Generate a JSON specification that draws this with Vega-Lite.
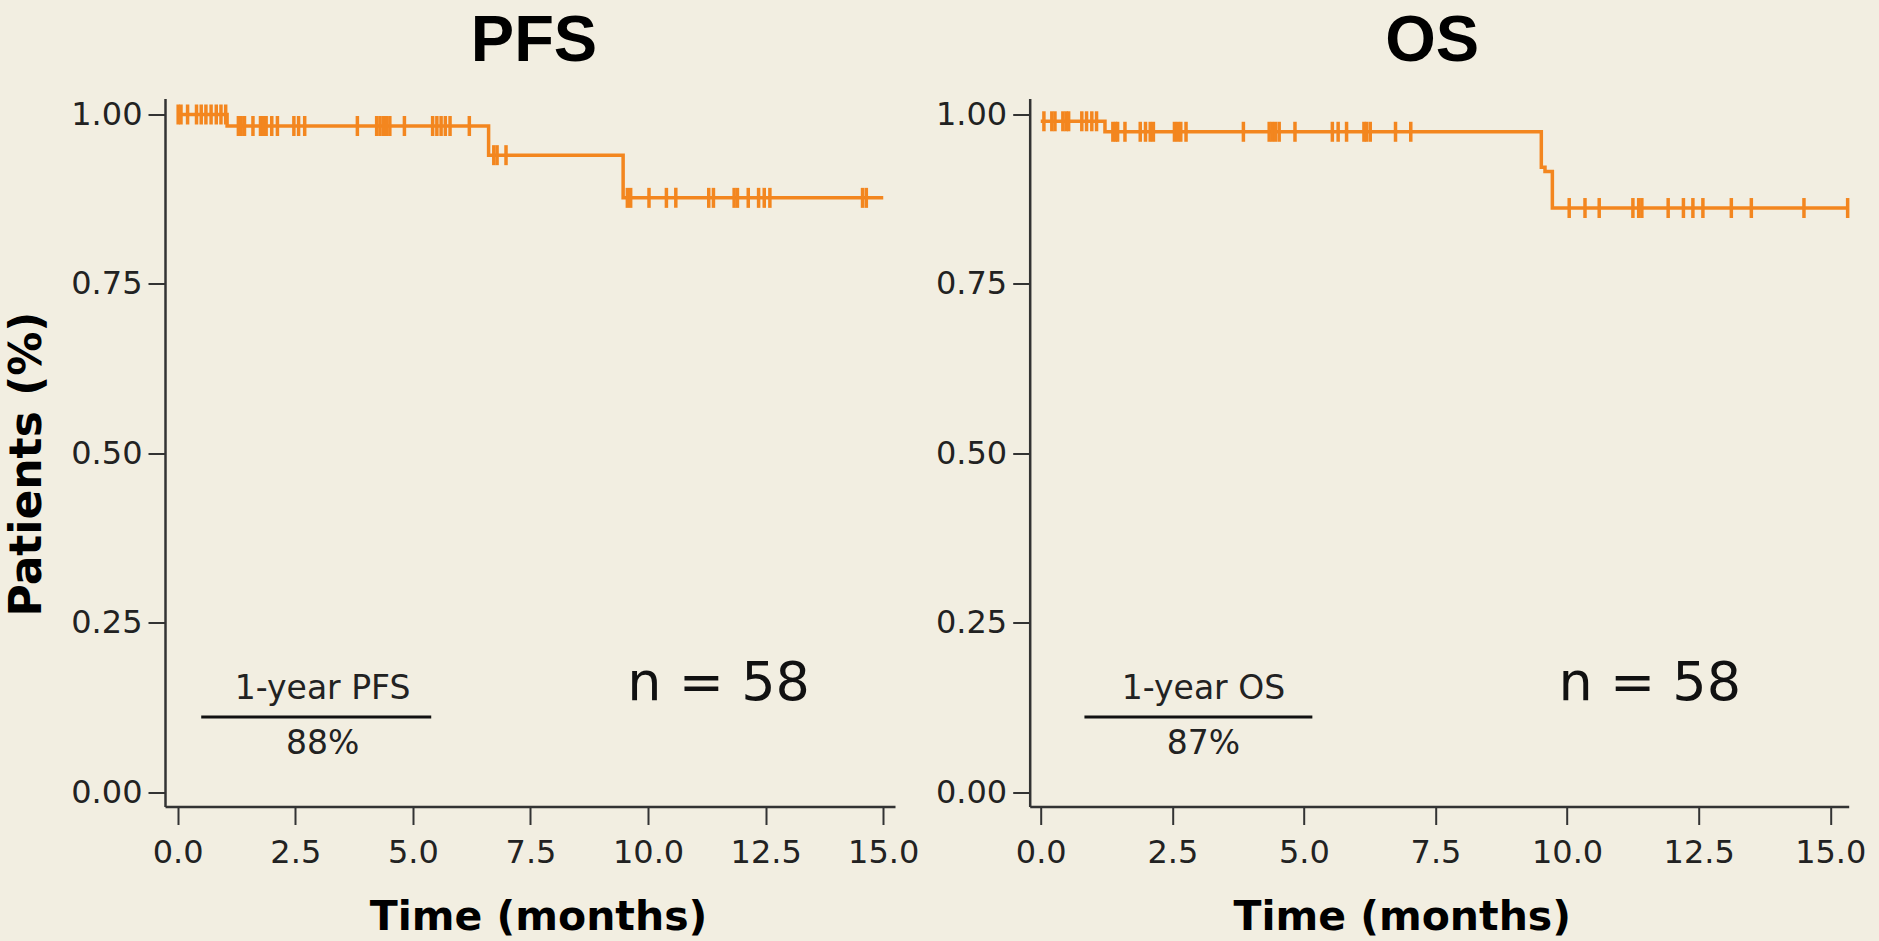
{
  "$schema": "https://vega.github.io/schema/vega-lite/v6.json",
  "background": "#f2eee1",
  "padding": {"left": 5, "top": 8.5, "right": 40, "bottom": 20},
  "spacing": 134.7,
  "bounds": "flush",
  "config": {
    "view": {"stroke": null},
    "axis": {
      "grid": false,
      "domainColor": "#333333",
      "domainWidth": 2.5,
      "tickColor": "#333333",
      "tickWidth": 2,
      "labelFont": "DejaVu Sans",
      "labelFontSize": 32,
      "labelColor": "#222222",
      "labelFlush": false,
      "labelOverlap": false,
      "titleFont": "DejaVu Sans",
      "titleFontWeight": "bold",
      "titleFontSize": 41,
      "titleColor": "#000000"
    },
    "title": {
      "font": "Liberation Sans",
      "fontWeight": "bold",
      "fontSize": 65,
      "color": "#000000",
      "anchor": "middle",
      "frame": "group",
      "baseline": "alphabetic",
      "offset": 23.5
    }
  },
  "datasets": {
    "pfsCurve": [
      {"month": 0, "surv": 1.0},
      {"month": 1.05, "surv": 0.983},
      {"month": 6.61, "surv": 0.940},
      {"month": 9.47, "surv": 0.877},
      {"month": 15.0, "surv": 0.877}
    ],
    "pfsCensor": [
      {"month": 0.01, "surv": 1.0}, {"month": 0.07, "surv": 1.0}, {"month": 0.21, "surv": 1.0},
      {"month": 0.40, "surv": 1.0}, {"month": 0.50, "surv": 1.0}, {"month": 0.60, "surv": 1.0},
      {"month": 0.71, "surv": 1.0}, {"month": 0.82, "surv": 1.0}, {"month": 0.92, "surv": 1.0},
      {"month": 1.02, "surv": 1.0},
      {"month": 1.29, "surv": 0.983}, {"month": 1.35, "surv": 0.983}, {"month": 1.42, "surv": 0.983},
      {"month": 1.60, "surv": 0.983}, {"month": 1.76, "surv": 0.983}, {"month": 1.82, "surv": 0.983},
      {"month": 1.88, "surv": 0.983}, {"month": 2.00, "surv": 0.983}, {"month": 2.12, "surv": 0.983},
      {"month": 2.47, "surv": 0.983}, {"month": 2.57, "surv": 0.983}, {"month": 2.70, "surv": 0.983},
      {"month": 3.82, "surv": 0.983}, {"month": 4.23, "surv": 0.983}, {"month": 4.30, "surv": 0.983},
      {"month": 4.37, "surv": 0.983}, {"month": 4.44, "surv": 0.983}, {"month": 4.51, "surv": 0.983},
      {"month": 4.82, "surv": 0.983}, {"month": 5.42, "surv": 0.983}, {"month": 5.51, "surv": 0.983},
      {"month": 5.60, "surv": 0.983}, {"month": 5.69, "surv": 0.983}, {"month": 5.79, "surv": 0.983},
      {"month": 6.20, "surv": 0.983},
      {"month": 6.72, "surv": 0.940}, {"month": 6.79, "surv": 0.940}, {"month": 6.98, "surv": 0.940},
      {"month": 9.56, "surv": 0.877}, {"month": 9.63, "surv": 0.877}, {"month": 10.02, "surv": 0.877},
      {"month": 10.39, "surv": 0.877}, {"month": 10.59, "surv": 0.877}, {"month": 11.29, "surv": 0.877},
      {"month": 11.39, "surv": 0.877}, {"month": 11.83, "surv": 0.877}, {"month": 11.90, "surv": 0.877},
      {"month": 12.13, "surv": 0.877}, {"month": 12.35, "surv": 0.877}, {"month": 12.47, "surv": 0.877},
      {"month": 12.59, "surv": 0.877}, {"month": 14.56, "surv": 0.877}, {"month": 14.64, "surv": 0.877}
    ],
    "osCurve": [
      {"month": 0, "surv": 0.990},
      {"month": 1.22, "surv": 0.9745},
      {"month": 9.51, "surv": 0.922},
      {"month": 9.58, "surv": 0.916},
      {"month": 9.72, "surv": 0.862},
      {"month": 15.34, "surv": 0.862}
    ],
    "osCensor": [
      {"month": 0.06, "surv": 0.990}, {"month": 0.21, "surv": 0.990}, {"month": 0.27, "surv": 0.990},
      {"month": 0.42, "surv": 0.990}, {"month": 0.48, "surv": 0.990}, {"month": 0.53, "surv": 0.990},
      {"month": 0.78, "surv": 0.990}, {"month": 0.87, "surv": 0.990}, {"month": 0.97, "surv": 0.990},
      {"month": 1.06, "surv": 0.990},
      {"month": 1.37, "surv": 0.9745}, {"month": 1.42, "surv": 0.9745}, {"month": 1.46, "surv": 0.9745},
      {"month": 1.60, "surv": 0.9745}, {"month": 1.89, "surv": 0.9745}, {"month": 1.99, "surv": 0.9745},
      {"month": 2.08, "surv": 0.9745}, {"month": 2.14, "surv": 0.9745}, {"month": 2.54, "surv": 0.9745},
      {"month": 2.60, "surv": 0.9745}, {"month": 2.66, "surv": 0.9745}, {"month": 2.76, "surv": 0.9745},
      {"month": 3.85, "surv": 0.9745}, {"month": 4.34, "surv": 0.9745}, {"month": 4.40, "surv": 0.9745},
      {"month": 4.46, "surv": 0.9745}, {"month": 4.53, "surv": 0.9745}, {"month": 4.83, "surv": 0.9745},
      {"month": 5.54, "surv": 0.9745}, {"month": 5.65, "surv": 0.9745}, {"month": 5.81, "surv": 0.9745},
      {"month": 6.14, "surv": 0.9745}, {"month": 6.19, "surv": 0.9745}, {"month": 6.26, "surv": 0.9745},
      {"month": 6.74, "surv": 0.9745}, {"month": 7.03, "surv": 0.9745},
      {"month": 10.04, "surv": 0.862}, {"month": 10.34, "surv": 0.862}, {"month": 10.61, "surv": 0.862},
      {"month": 11.25, "surv": 0.862}, {"month": 11.36, "surv": 0.862}, {"month": 11.42, "surv": 0.862},
      {"month": 11.92, "surv": 0.862}, {"month": 12.21, "surv": 0.862}, {"month": 12.39, "surv": 0.862},
      {"month": 12.58, "surv": 0.862}, {"month": 13.12, "surv": 0.862}, {"month": 13.50, "surv": 0.862},
      {"month": 14.50, "surv": 0.862}, {"month": 15.33, "surv": 0.862}
    ],
    "pfsNote": [
      {"month": 3.08, "surv": 0.137, "label": "1-year PFS"},
      {"month": 3.08, "surv": 0.056, "label": "88%"}
    ],
    "pfsRule": [{"start": 0.50, "end": 5.39, "surv": 0.111}],
    "pfsN": [{"month": 11.5, "surv": 0.136, "label": "n = 58"}],
    "osNote": [
      {"month": 3.09, "surv": 0.137, "label": "1-year OS"},
      {"month": 3.09, "surv": 0.056, "label": "87%"}
    ],
    "osRule": [{"start": 0.83, "end": 5.16, "surv": 0.111}],
    "osN": [{"month": 11.57, "surv": 0.136, "label": "n = 58"}]
  },
  "hconcat": [
    {
      "width": 730,
      "height": 708,
      "title": {"text": "PFS", "dx": 4},
      "encoding": {
        "x": {
          "field": "month", "type": "quantitative",
          "scale": {"domain": [-0.27, 15.25], "nice": false, "zero": false},
          "axis": {
            "title": "Time (months)",
            "values": [0, 2.5, 5, 7.5, 10, 12.5, 15],
            "format": ".1f",
            "tickSize": 18,
            "labelPadding": 13,
            "titleX": 373,
            "titleY": 122.7,
            "titleAlign": "center",
            "titleBaseline": "alphabetic"
          }
        },
        "y": {
          "field": "surv", "type": "quantitative",
          "scale": {"domain": [-0.021, 1.0236], "nice": false, "zero": false},
          "axis": {
            "title": "Patients (%)",
            "values": [0, 0.25, 0.5, 0.75, 1],
            "format": ".2f",
            "tickSize": 17,
            "labelPadding": 6,
            "titleFontSize": 44,
            "titleAngle": 270,
            "titleX": -124.3,
            "titleY": 365,
            "titleAlign": "center",
            "titleBaseline": "alphabetic"
          }
        }
      },
      "layer": [
        {
          "data": {"name": "pfsCurve"},
          "mark": {"type": "line", "interpolate": "step-after", "color": "#f3861f", "strokeWidth": 3.5}
        },
        {
          "data": {"name": "pfsCensor"},
          "mark": {"type": "tick", "orient": "vertical", "size": 20, "thickness": 3.5, "color": "#f3861f", "opacity": 1}
        },
        {
          "data": {"name": "pfsRule"},
          "mark": {"type": "rule", "color": "#111111", "strokeWidth": 3},
          "encoding": {
            "x": {"field": "start", "type": "quantitative"},
            "x2": {"field": "end"},
            "y": {"field": "surv", "type": "quantitative"}
          }
        },
        {
          "data": {"name": "pfsNote"},
          "mark": {"type": "text", "font": "DejaVu Sans", "fontSize": 33, "color": "#222222", "align": "center", "baseline": "alphabetic"},
          "encoding": {"text": {"field": "label"}}
        },
        {
          "data": {"name": "pfsN"},
          "mark": {"type": "text", "font": "DejaVu Sans", "fontSize": 54, "color": "#111111", "align": "center", "baseline": "alphabetic"},
          "encoding": {"text": {"field": "label"}}
        }
      ]
    },
    {
      "width": 819,
      "height": 708,
      "title": {"text": "OS", "dx": -7},
      "encoding": {
        "x": {
          "field": "month", "type": "quantitative",
          "scale": {"domain": [-0.21, 15.35], "nice": false, "zero": false},
          "axis": {
            "title": "Time (months)",
            "values": [0, 2.5, 5, 7.5, 10, 12.5, 15],
            "format": ".1f",
            "tickSize": 18,
            "labelPadding": 13,
            "titleX": 372,
            "titleY": 122.7,
            "titleAlign": "center",
            "titleBaseline": "alphabetic"
          }
        },
        "y": {
          "field": "surv", "type": "quantitative",
          "scale": {"domain": [-0.021, 1.0236], "nice": false, "zero": false},
          "axis": {
            "title": null,
            "values": [0, 0.25, 0.5, 0.75, 1],
            "format": ".2f",
            "tickSize": 17,
            "labelPadding": 6
          }
        }
      },
      "layer": [
        {
          "data": {"name": "osCurve"},
          "mark": {"type": "line", "interpolate": "step-after", "color": "#f3861f", "strokeWidth": 3.5}
        },
        {
          "data": {"name": "osCensor"},
          "mark": {"type": "tick", "orient": "vertical", "size": 20, "thickness": 3.5, "color": "#f3861f", "opacity": 1}
        },
        {
          "data": {"name": "osRule"},
          "mark": {"type": "rule", "color": "#111111", "strokeWidth": 3},
          "encoding": {
            "x": {"field": "start", "type": "quantitative"},
            "x2": {"field": "end"},
            "y": {"field": "surv", "type": "quantitative"}
          }
        },
        {
          "data": {"name": "osNote"},
          "mark": {"type": "text", "font": "DejaVu Sans", "fontSize": 33, "color": "#222222", "align": "center", "baseline": "alphabetic"},
          "encoding": {"text": {"field": "label"}}
        },
        {
          "data": {"name": "osN"},
          "mark": {"type": "text", "font": "DejaVu Sans", "fontSize": 54, "color": "#111111", "align": "center", "baseline": "alphabetic"},
          "encoding": {"text": {"field": "label"}}
        }
      ]
    }
  ]
}
